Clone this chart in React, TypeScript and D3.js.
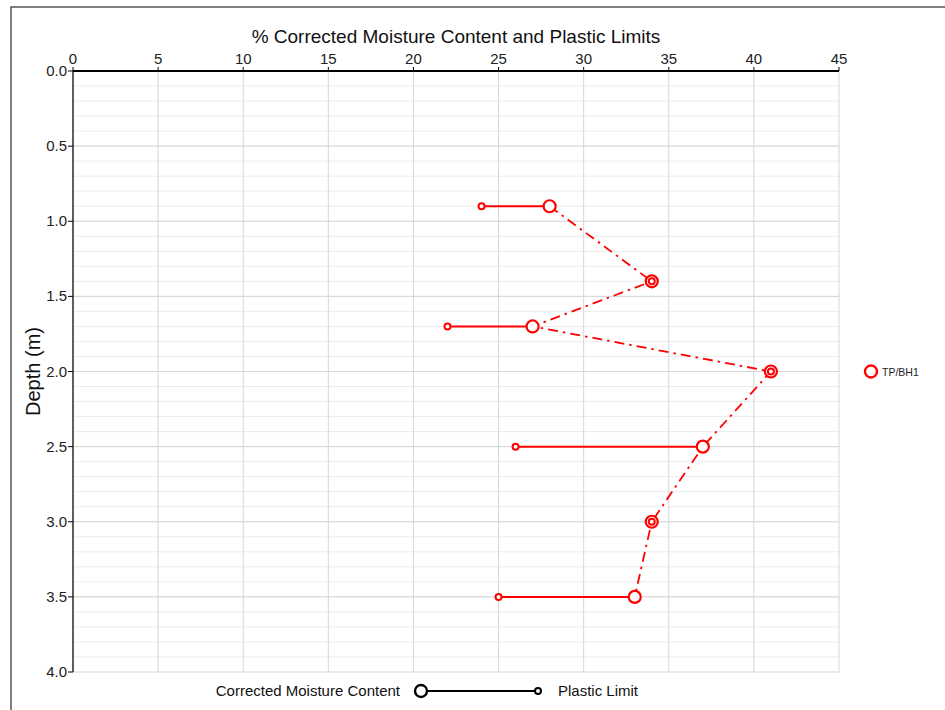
import React from 'react';
import * as d3 from 'd3';

const W = 945;
const H = 710;
const margin = { left: 73, top: 71, right: 945 - 839, bottom: 710 - 672 };

const depths = [0.9, 1.4, 1.7, 2.0, 2.5, 3.0, 3.5];
const moisture = [28, 34, 27, 41, 37, 34, 33];
const plastic = [24, 34, 22, 41, 26, 34, 25];
const xTicks = [0, 5, 10, 15, 20, 25, 30, 35, 40, 45];
const yTicks = [0, 0.5, 1.0, 1.5, 2.0, 2.5, 3.0, 3.5, 4.0];
const seriesName = 'TP/BH1';

const FONT = "'Liberation Sans', Arial, sans-serif";
const RED = '#ff0000';

const App = () => {
    const x = d3.scaleLinear([0, 45], [margin.left, W - margin.right]);
    const y = d3.scaleLinear([0, 4], [margin.top, H - margin.bottom]);
    const minor = d3.range(0, 40).map(i => i / 10);

    const pts = depths.map((d, i) => ({ d, mc: moisture[i], pl: plastic[i] }));
    const mcLine = d3
        .line<{ d: number; mc: number }>()
        .x(p => x(p.mc))
        .y(p => y(p.d));

    return (
        <div style={{ position: 'absolute', left: 0, top: 0 }}>
            <svg width={W} height={H} style={{ display: 'block', background: '#fff' }}>
                <rect x={11} y={7} width={W} height={H} fill='none' stroke='#555' strokeWidth={1.5} />

                {/* minor grid */}
                {minor.map(v => (
                    <line
                        key={'m' + v}
                        x1={x(0)}
                        x2={x(45)}
                        y1={y(v)}
                        y2={y(v)}
                        stroke='#ececec'
                        strokeWidth={1}
                    />
                ))}
                {yTicks.map(v => (
                    <line
                        key={'gy' + v}
                        x1={x(0)}
                        x2={x(45)}
                        y1={y(v)}
                        y2={y(v)}
                        stroke='#d6d6d6'
                        strokeWidth={1}
                    />
                ))}
                {xTicks.map(v => (
                    <line
                        key={'gx' + v}
                        x1={x(v)}
                        x2={x(v)}
                        y1={y(0)}
                        y2={y(4)}
                        stroke='#d6d6d6'
                        strokeWidth={1}
                    />
                ))}

                {/* axes */}
                <line x1={x(0)} x2={x(45)} y1={y(0)} y2={y(0)} stroke='#000' strokeWidth={2} />
                <line x1={x(0)} x2={x(0)} y1={y(0)} y2={y(4)} stroke='#000' strokeWidth={1.2} />
                {xTicks.map(v => (
                    <g key={'tx' + v}>
                        <line x1={x(v)} x2={x(v)} y1={y(0) - 4} y2={y(0)} stroke='#000' />
                        <text
                            x={x(v)}
                            y={y(0) - 7}
                            textAnchor='middle'
                            fontFamily={FONT}
                            fontSize={15}
                            fill='#222'
                        >
                            {v}
                        </text>
                    </g>
                ))}
                {yTicks.map(v => (
                    <g key={'ty' + v}>
                        <line x1={x(0) - 5} x2={x(0)} y1={y(v)} y2={y(v)} stroke='#000' />
                        <text
                            x={x(0) - 6}
                            y={y(v) + 5}
                            textAnchor='end'
                            fontFamily={FONT}
                            fontSize={15}
                            fill='#222'
                        >
                            {v.toFixed(1)}
                        </text>
                    </g>
                ))}
                <text
                    x={(x(0) + x(45)) / 2}
                    y={43}
                    textAnchor='middle'
                    fontFamily={FONT}
                    fontSize={19}
                    fill='#111'
                >
                    % Corrected Moisture Content and Plastic Limits
                </text>
                <text
                    transform={`translate(40,${(y(0) + y(4)) / 2}) rotate(-90)`}
                    textAnchor='middle'
                    fontFamily={FONT}
                    fontSize={20}
                    fill='#111'
                >
                    Depth (m)
                </text>

                {/* data */}
                <path
                    d={mcLine(pts) || ''}
                    fill='none'
                    stroke={RED}
                    strokeWidth={1.8}
                    strokeDasharray='10,5,2.5,5'
                />
                {pts.map(p => (
                    <line
                        key={'pl' + p.d}
                        x1={x(p.pl)}
                        x2={x(p.mc)}
                        y1={y(p.d)}
                        y2={y(p.d)}
                        stroke={RED}
                        strokeWidth={2}
                    />
                ))}
                {pts.map(p => (
                    <g key={'mk' + p.d}>
                        <circle cx={x(p.mc)} cy={y(p.d)} r={6} fill='#fff' stroke={RED} strokeWidth={2.2} />
                        <circle cx={x(p.pl)} cy={y(p.d)} r={3} fill='#fff' stroke={RED} strokeWidth={2} />
                    </g>
                ))}

                {/* series legend */}
                <circle cx={871} cy={y(2)} r={6} fill='#fff' stroke={RED} strokeWidth={2.4} />
                <text x={882} y={y(2) + 4} fontFamily={FONT} fontSize={10.5} fill='#222'>
                    {seriesName}
                </text>

                {/* symbol legend */}
                <text x={400} y={696} textAnchor='end' fontFamily={FONT} fontSize={15} fill='#111'>
                    Corrected Moisture Content
                </text>
                <line x1={421} x2={538} y1={691} y2={691} stroke='#000' strokeWidth={2} />
                <circle cx={421} cy={691} r={6} fill='#fff' stroke='#000' strokeWidth={2.4} />
                <circle cx={538} cy={691} r={3} fill='#fff' stroke='#000' strokeWidth={2} />
                <text x={558} y={696} fontFamily={FONT} fontSize={15} fill='#111'>
                    Plastic Limit
                </text>
            </svg>
        </div>
    );
};

export default App;
